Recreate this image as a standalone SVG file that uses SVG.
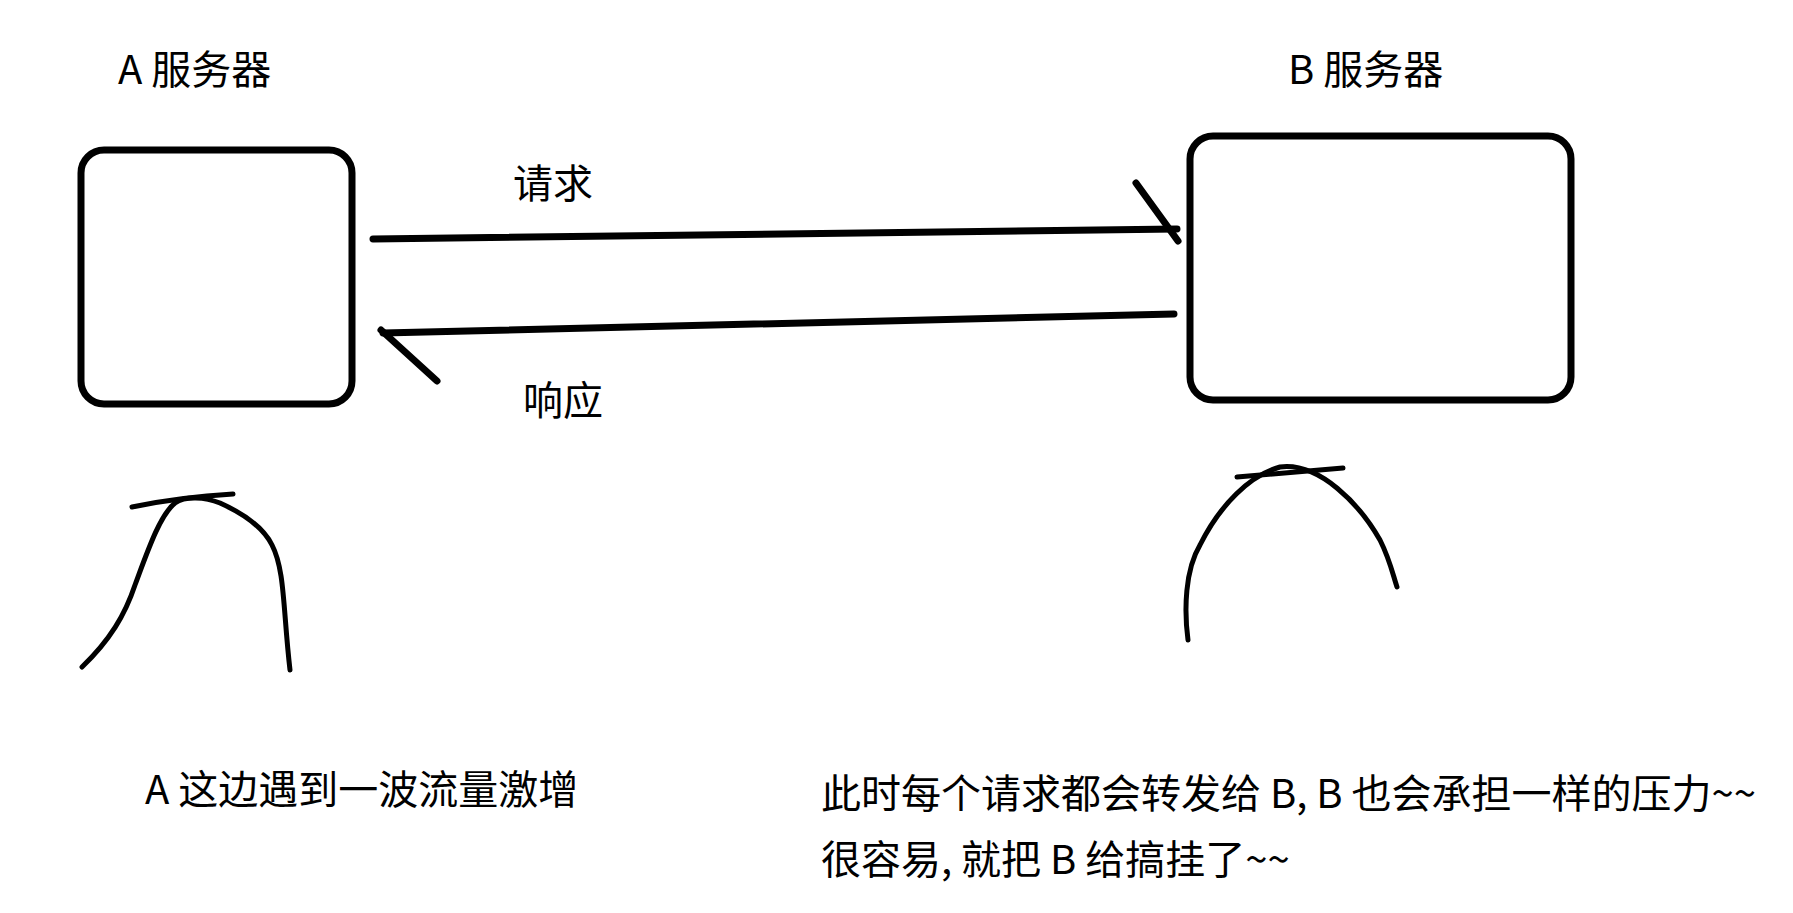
<svg xmlns="http://www.w3.org/2000/svg" width="1793" height="913" viewBox="0 0 1793 913">
<style>
.box{fill:#fff;stroke:#000;stroke-width:7}
.ln{fill:none;stroke:#000;stroke-width:7;stroke-linecap:round;stroke-linejoin:round}
.cv{fill:none;stroke:#000;stroke-width:5;stroke-linecap:round;stroke-linejoin:round}
.t{font-family:"Noto Sans CJK SC","Noto Sans",sans-serif;font-size:40px;fill:#000}
</style>
<rect width="1793" height="913" fill="#fff"/>
<g id="serverA">
<rect class="box" x="81" y="150" width="271" height="254" rx="23"/>
<text class="t" x="118" y="84">A 服务器</text>
</g>
<g id="serverB">
<rect class="box" x="1190" y="136" width="381" height="264" rx="23"/>
<text class="t" x="1288" y="84">B 服务器</text>
</g>
<g id="connectors">
<path class="ln" d="M373,239 L1177,229"/>
<path class="ln" d="M1136,183 L1178,241"/>
<text class="t" x="513" y="198">请求</text>
<path class="ln" d="M1174,314 L383,333"/>
<path class="ln" d="M381,330 L437,381"/>
<text class="t" x="523" y="415">响应</text>
</g>
<g id="curveA">
<path class="cv" d="M82,667 C110,640 125,615 135,585 C148,550 160,515 175,503 C185,496 205,497 220,503 C240,512 262,525 272,545 C285,570 283,610 290,670"/>
<path class="cv" d="M132,507 Q180,497 233,494"/>
</g>
<g id="curveB">
<path class="cv" d="M1188,640 C1184,610 1185,570 1200,545 C1220,505 1250,475 1280,467 C1320,462 1360,505 1380,540 C1390,560 1393,575 1397,587"/>
<path class="cv" d="M1237,477 L1343,468"/>
</g>
<g id="notes">
<text class="t" x="145" y="804">A 这边遇到一波流量激增</text>
<text class="t" x="821" y="808">此时每个请求都会转发给 B, B 也会承担一样的压力~~</text>
<text class="t" x="821" y="874">很容易, 就把 B 给搞挂了~~</text>
</g>
</svg>
